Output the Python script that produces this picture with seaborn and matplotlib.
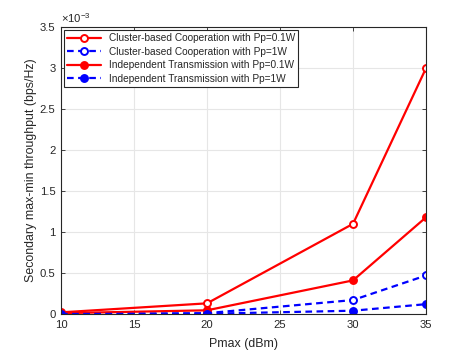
import numpy as np
import pandas as pd
import seaborn as sns
import matplotlib
matplotlib.use("Agg")
from matplotlib import pyplot as plt
from matplotlib.ticker import FuncFormatter

pmax = [10, 20, 30, 35]
coop_01 = [0.02e-3, 0.13e-3, 1.10e-3, 3.00e-3]
coop_1 = [0.0, 0.01e-3, 0.17e-3, 0.47e-3]
indep_01 = [0.01e-3, 0.045e-3, 0.41e-3, 1.18e-3]
indep_1 = [0.0, 0.003e-3, 0.04e-3, 0.12e-3]

labels = ["Cluster-based Cooperation with Pp=0.1W",
          "Cluster-based Cooperation with Pp=1W",
          "Independent Transmission with Pp=0.1W",
          "Independent Transmission with Pp=1W"]

df = pd.DataFrame({
    "Pmax": pmax * 4,
    "val": coop_01 + coop_1 + indep_01 + indep_1,
    "series": np.repeat(labels, len(pmax)),
})

sns.set_theme(style="whitegrid")
plt.rcParams['font.family'] = ['Liberation Sans', 'DejaVu Sans']
plt.rcParams['mathtext.default'] = 'regular'

fig = plt.figure(figsize=(4.71, 3.53), dpi=100)
ax = fig.add_axes([0.1295, 0.1105, 0.775, 0.8125])

styles = {
    labels[0]: dict(color="red", linestyle="-", mfc="white"),
    labels[1]: dict(color="blue", linestyle=(0, (3, 2)), mfc="white"),
    labels[2]: dict(color="red", linestyle="-", mfc="red"),
    labels[3]: dict(color="blue", linestyle=(0, (3, 2)), mfc="blue"),
}

for lab in labels:
    st = styles[lab]
    sns.lineplot(data=df[df["series"] == lab], x="Pmax", y="val", ax=ax,
                 color=st["color"], linestyle=st["linestyle"], linewidth=1.6,
                 marker="o", markersize=5, markerfacecolor=st["mfc"],
                 markeredgecolor=st["color"], markeredgewidth=1.4, label=lab)

ax.set_xlim(10, 35)
ax.set_ylim(0, 3.5e-3)
ax.set_xticks([10, 15, 20, 25, 30, 35])
ax.set_yticks(np.arange(0, 3.51e-3, 0.5e-3))
ax.yaxis.set_major_formatter(FuncFormatter(lambda v, p: f"{v * 1e3:g}"))
ax.text(0, 1.008, r"$\times10^{-3}$", transform=ax.transAxes, fontsize=8.1,
        color="#262626", ha="left", va="bottom")

ax.set_facecolor("white")
ax.grid(True, color="#e6e6e6", linewidth=0.8)
for s in ax.spines.values():
    s.set_color("#262626")
    s.set_linewidth(0.8)
ax.tick_params(direction="in", length=3, width=0.6, colors="#262626",
               labelsize=8.1, top=True, right=True, bottom=True, left=True)
ax.tick_params(axis="x", pad=4)
ax.tick_params(axis="y", pad=4)
ax.set_xlabel("Pmax (dBm)", fontsize=8.9, color="#262626", labelpad=6)
ax.set_ylabel("Secondary max-min throughput (bps/Hz)", fontsize=8.9,
              color="#262626", labelpad=2)

leg = ax.legend(loc="upper left", fontsize=7.3, frameon=True, fancybox=False,
                edgecolor="#262626", framealpha=1, borderaxespad=0.3,
                handlelength=3.3, labelspacing=0.35, borderpad=0.3)
leg.get_frame().set_linewidth(0.8)

fig.savefig("out.png", dpi=100)
